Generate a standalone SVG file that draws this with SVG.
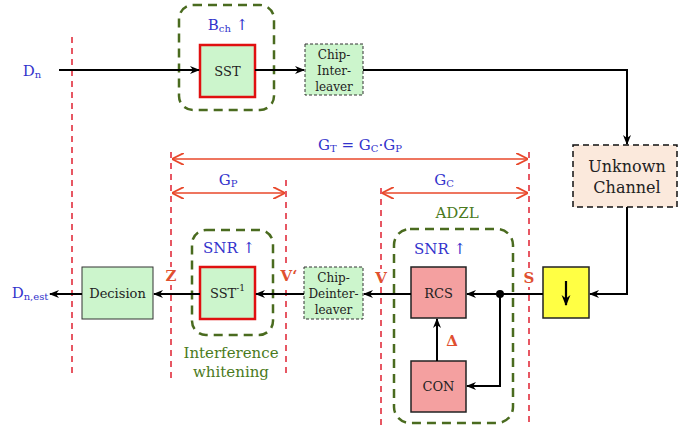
<svg xmlns="http://www.w3.org/2000/svg" width="678" height="427" viewBox="0 0 678 427">
<defs>
<marker id="ah" viewBox="0 0 10 10" refX="9" refY="5" markerWidth="5" markerHeight="5" orient="auto-start-reverse" markerUnits="strokeWidth"><path d="M0,1 L10,5 L0,9 L3,5 z" fill="#000"/></marker>
<marker id="rh" viewBox="0 0 10 10" refX="9" refY="5" markerWidth="8" markerHeight="8" orient="auto-start-reverse" markerUnits="strokeWidth"><path d="M0,0 L10,5 L0,10" fill="none" stroke="#e8472a" stroke-width="1.5"/></marker>
<style>
text{font-family:"DejaVu Serif","Liberation Serif",serif;text-anchor:middle;dominant-baseline:central}
.box{fill:#ccf5cc;stroke:#333;stroke-width:1}
.dbox{fill:#ccf5cc;stroke:#333;stroke-width:1;stroke-dasharray:3,2}
.sst{fill:#ccf5cc;stroke:#e01010;stroke-width:2.5}
.pink{fill:#f4a0a0;stroke:#222;stroke-width:1.5}
.grp{fill:none;stroke:#4a6b1f;stroke-width:2.5;stroke-dasharray:9,6}
.red{stroke:#e02030;stroke-width:1.5;stroke-dasharray:6,5;fill:none}
.ln{stroke:#000;stroke-width:2;fill:none}
.ar{stroke:#e8472a;stroke-width:1.5;fill:none}
.lab{fill:#3333cc;font-size:15px}
.pt{fill:#e05030;font-size:15px;font-weight:bold}
.gr{fill:#4a7a20;font-size:15px}
.t{fill:#222;font-size:13px}
.ts{fill:#222;font-size:12px}
.bg{fill:#fff}
</style>
</defs>
<rect width="678" height="427" fill="#fff"/>

<g id="guides">
<line class="red" x1="72" y1="37" x2="72" y2="378"/>
<line class="red" x1="171" y1="152" x2="171" y2="378"/>
<line class="red" x1="286" y1="180" x2="286" y2="378"/>
<line class="red" x1="381" y1="188" x2="381" y2="427"/>
<line class="red" x1="529" y1="152" x2="529" y2="427"/>
<line class="ar" x1="173" y1="159" x2="527" y2="159" marker-start="url(#rh)" marker-end="url(#rh)"/>
<line class="ar" x1="173" y1="193" x2="284" y2="193" marker-start="url(#rh)" marker-end="url(#rh)"/>
<line class="ar" x1="383" y1="193" x2="527" y2="193" marker-start="url(#rh)" marker-end="url(#rh)"/>
<text class="lab" x="360" y="145">G<tspan font-size="10" dy="3">T</tspan><tspan dy="-3"> = G</tspan><tspan font-size="10" dy="3">C</tspan><tspan dy="-3">·G</tspan><tspan font-size="10" dy="3">P</tspan></text>
<text class="lab" x="228" y="180">G<tspan font-size="10" dy="3">P</tspan></text>
<text class="lab" x="444" y="180">G<tspan font-size="10" dy="3">C</tspan></text>
<rect class="bg" x="163" y="267" width="16" height="18"/>
<rect class="bg" x="278" y="267" width="20" height="18"/>
<rect class="bg" x="373" y="269" width="16" height="18"/>
<rect class="bg" x="521" y="269" width="16" height="18"/>
<text class="pt" x="171" y="276">Z</text>
<text class="pt" x="289" y="276">V‘</text>
<text class="pt" x="381" y="278">V</text>
<text class="pt" x="529" y="278">S</text>
</g>

<g id="labels">
<text class="lab" x="32" y="71" font-size="16">D<tspan font-size="10" dy="3">n</tspan></text>
<text class="lab" x="30" y="293" font-size="16">D<tspan font-size="10" dy="3">n,est</tspan></text>
</g>

<g id="grp-bch">
<rect class="grp" x="179" y="5" width="95" height="105" rx="14"/>
<text class="lab" x="228" y="25">B<tspan font-size="10" dy="3">ch</tspan><tspan dy="-3"> ↑</tspan></text>
</g>
<g id="grp-iw">
<rect class="grp" x="192" y="230" width="81" height="105" rx="14"/>
<text class="lab" x="229" y="248">SNR ↑</text>
<text class="gr" x="231" y="353">Interference</text>
<text class="gr" x="231" y="372">whitening</text>
</g>
<g id="grp-adzl">
<rect class="grp" x="394" y="229" width="119" height="194" rx="16"/>
<text class="gr" x="457" y="213">ADZL</text>
<text class="lab" x="440" y="249">SNR ↑</text>
</g>

<g id="sst">
<rect class="sst" x="200" y="45" width="55" height="52"/>
<text class="t" x="227.5" y="71">SST</text>
</g>
<g id="interleaver">
<rect class="dbox" x="305" y="44" width="58" height="51"/>
<text class="ts" x="334" y="55">Chip-</text>
<text class="ts" x="334" y="71">Inter-</text>
<text class="ts" x="334" y="87">leaver</text>
</g>
<g id="channel">
<rect x="573" y="145" width="104" height="62" fill="#fbe9dc" stroke="#111" stroke-width="1.5" stroke-dasharray="6,4"/>
<text x="627" y="166" fill="#222" font-size="16">Unknown</text>
<text x="627" y="187" fill="#222" font-size="16">Channel</text>
</g>
<g id="down">
<rect x="543" y="267" width="46" height="51" fill="#ffff44" stroke="#222" stroke-width="1.5"/>
<line x1="566" y1="281" x2="566" y2="305" stroke="#000" stroke-width="2.2" marker-end="url(#ah)"/>
</g>
<g id="rcs">
<rect class="pink" x="411" y="267" width="55" height="51"/>
<text class="t" x="438.5" y="293">RCS</text>
</g>
<g id="con">
<rect class="pink" x="411" y="361" width="55" height="51"/>
<text class="t" x="438.5" y="386">CON</text>
</g>
<g id="deinterleaver">
<rect class="dbox" x="304" y="267" width="59" height="52"/>
<text class="ts" x="333.5" y="278">Chip-</text>
<text class="ts" x="333.5" y="294">Deinter-</text>
<text class="ts" x="333.5" y="310">leaver</text>
</g>
<g id="sstinv">
<rect class="sst" x="200" y="267" width="55" height="52"/>
<text class="t" x="227.5" y="293">SST<tspan font-size="9" dy="-5">-1</tspan></text>
</g>
<g id="decision">
<rect class="box" x="82" y="267" width="71" height="52"/>
<text class="t" x="117.5" y="293">Decision</text>
</g>

<g id="connectors">
<line class="ln" x1="59" y1="70" x2="199" y2="70" marker-end="url(#ah)"/>
<line class="ln" x1="255" y1="70" x2="304" y2="70" marker-end="url(#ah)"/>
<polyline class="ln" points="363,70 627,70 627,144" marker-end="url(#ah)"/>
<polyline class="ln" points="627,207 627,294 590,294" marker-end="url(#ah)"/>
<line class="ln" x1="543" y1="294" x2="467" y2="294" marker-end="url(#ah)"/>
<polyline class="ln" points="500,294 500,386 467,386" marker-end="url(#ah)"/>
<circle cx="500" cy="294" r="4" fill="#000"/>
<line class="ln" x1="437" y1="361" x2="437" y2="319" marker-end="url(#ah)"/>
<text class="pt" x="452" y="341">Δ</text>
<line class="ln" x1="411" y1="294" x2="364" y2="294" marker-end="url(#ah)"/>
<line class="ln" x1="304" y1="294" x2="256" y2="294" marker-end="url(#ah)"/>
<line class="ln" x1="200" y1="294" x2="154" y2="294" marker-end="url(#ah)"/>
<line class="ln" x1="82" y1="294" x2="50" y2="294" marker-end="url(#ah)"/>
</g>
</svg>
